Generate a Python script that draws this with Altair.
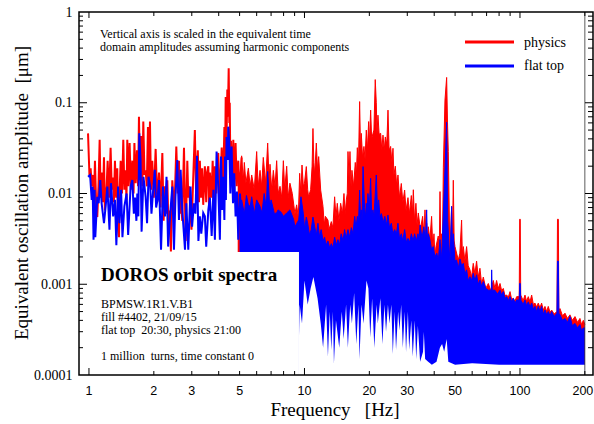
import altair as alt
import pandas as pd

# ---------------- data ----------------
# low-frequency part drawn as individual lines: (frequency Hz, amplitude um)
RED_LINE = [
    (0.99, 0.046), (1.005, 0.016), (1.018, 0.019), (1.03, 0.012), (1.045, 0.016), (1.055, 0.008),
    (1.066, 0.023), (1.08, 0.0075), (1.093, 0.0055), (1.107, 0.012), (1.121, 0.039), (1.133, 0.009),
    (1.145, 0.017), (1.16, 0.008), (1.174, 0.025), (1.185, 0.0065), (1.195, 0.009), (1.208, 0.012),
    (1.221, 0.023), (1.24, 0.009), (1.26, 0.032), (1.276, 0.011), (1.292, 0.015), (1.305, 0.008),
    (1.32, 0.023), (1.337, 0.009), (1.353, 0.019), (1.366, 0.004), (1.378, 0.0033), (1.39, 0.012),
    (1.403, 0.023), (1.423, 0.010), (1.443, 0.039), (1.46, 0.011), (1.48, 0.018), (1.493, 0.0085),
    (1.506, 0.039), (1.525, 0.012), (1.544, 0.036), (1.565, 0.011), (1.589, 0.023), (1.61, 0.010),
    (1.625, 0.036), (1.647, 0.013), (1.67, 0.030), (1.69, 0.012), (1.706, 0.070), (1.727, 0.014),
    (1.749, 0.043), (1.768, 0.012), (1.787, 0.062), (1.81, 0.016), (1.832, 0.018), (1.855, 0.012),
    (1.878, 0.054), (1.9, 0.013), (1.919, 0.062), (1.94, 0.011), (1.967, 0.023), (2.0, 0.009),
    (2.039, 0.031), (2.075, 0.008), (2.113, 0.017), (2.15, 0.007), (2.19, 0.028), (2.22, 0.005),
    (2.253, 0.012), (2.28, 0.006), (2.31, 0.014), (2.34, 0.004), (2.367, 0.0065), (2.4, 0.0023),
    (2.436, 0.014), (2.49, 0.006), (2.543, 0.033), (2.58, 0.010), (2.616, 0.023), (2.64, 0.006),
    (2.663, 0.010), (2.71, 0.005), (2.76, 0.032), (2.81, 0.003), (2.86, 0.023), (2.89, 0.009),
    (2.911, 0.012), (2.99, 0.004), (3.1, 0.050), (3.14, 0.010), (3.2, 0.030), (3.24, 0.008),
    (3.27, 0.023), (3.31, 0.009), (3.35, 0.019), (3.39, 0.0075), (3.45, 0.020), (3.5, 0.008),
    (3.53, 0.017), (3.58, 0.020), (3.61, 0.0065), (3.64, 0.017), (3.7, 0.009), (3.75, 0.023),
    (3.8, 0.007), (3.84, 0.020), (3.9, 0.010), (3.98, 0.028), (4.05, 0.009), (4.13, 0.032),
    (4.19, 0.012), (4.25, 0.054), (4.28, 0.020), (4.31, 0.116), (4.35, 0.040), (4.385, 0.140),
    (4.41, 0.070), (4.45, 0.240), (4.48, 0.060), (4.5, 0.100), (4.53, 0.020), (4.56, 0.038),
    (4.62, 0.012), (4.675, 0.039), (4.72, 0.011), (4.79, 0.036), (4.85, 0.012), (4.93, 0.023),
    (5.0, 0.010), (5.11, 0.025),
]
BLUE_LINE = [
    (0.99, 0.0153), (1.012, 0.016), (1.03, 0.0085), (1.04, 0.0119), (1.05, 0.0031), (1.062, 0.011),
    (1.07, 0.0033), (1.093, 0.0092), (1.11, 0.0078), (1.128, 0.0141), (1.145, 0.0078), (1.174, 0.0047),
    (1.195, 0.0072), (1.217, 0.0119), (1.245, 0.004), (1.265, 0.013), (1.295, 0.0056), (1.32, 0.0085),
    (1.34, 0.0027), (1.365, 0.0119), (1.385, 0.0047), (1.41, 0.011), (1.43, 0.0033), (1.46, 0.0072),
    (1.495, 0.010), (1.52, 0.0035), (1.56, 0.0119), (1.589, 0.0141), (1.615, 0.006), (1.636, 0.009),
    (1.66, 0.005), (1.676, 0.010), (1.695, 0.0056), (1.712, 0.046), (1.735, 0.0234), (1.755, 0.0038),
    (1.79, 0.0153), (1.832, 0.0092), (1.86, 0.0047), (1.89, 0.0153), (1.925, 0.0119), (1.95, 0.006),
    (1.98, 0.010), (2.02, 0.0182), (2.05, 0.007), (2.08, 0.0085), (2.113, 0.0141), (2.16, 0.0024),
    (2.205, 0.0119), (2.253, 0.0056), (2.29, 0.0153), (2.33, 0.0026), (2.39, 0.0066), (2.436, 0.0119),
    (2.48, 0.0024), (2.52, 0.0092), (2.57, 0.0234), (2.616, 0.0051), (2.663, 0.0182), (2.71, 0.0066),
    (2.79, 0.0024), (2.83, 0.0078), (2.89, 0.0024), (2.96, 0.0119), (3.01, 0.0043), (3.07, 0.0078),
    (3.12, 0.006), (3.17, 0.026), (3.22, 0.003), (3.27, 0.0056), (3.32, 0.0036), (3.39, 0.0061),
    (3.45, 0.0056), (3.5, 0.0026), (3.58, 0.0066), (3.64, 0.009), (3.71, 0.0034), (3.78, 0.011),
    (3.84, 0.0031), (3.91, 0.029), (3.98, 0.0119), (4.05, 0.0031), (4.1, 0.0255), (4.15, 0.0066),
    (4.2, 0.0153), (4.25, 0.0051), (4.28, 0.0255), (4.32, 0.0085), (4.35, 0.042), (4.4, 0.0234),
    (4.43, 0.0545), (4.48, 0.036), (4.53, 0.010), (4.59, 0.033), (4.66, 0.0078), (4.72, 0.0167),
    (4.79, 0.0056), (4.86, 0.0105), (4.93, 0.0031), (5.02, 0.010), (5.11, 0.004),
]
# dense part: upper envelope of each spectrum (frequency Hz, amplitude um)
RED_TOP = [
    (4.9, 0.022), (5.0, 0.012), (5.11, 0.026), (5.2, 0.014), (5.26, 0.022), (5.35, 0.013),
    (5.49, 0.019), (5.6, 0.012), (5.69, 0.016), (5.85, 0.011), (6.0, 0.029), (6.1, 0.012),
    (6.22, 0.018), (6.33, 0.012), (6.44, 0.025), (6.6, 0.013), (6.75, 0.036), (6.85, 0.014),
    (6.92, 0.021), (7.05, 0.011), (7.17, 0.018), (7.3, 0.012), (7.43, 0.023), (7.55, 0.010),
    (7.7, 0.012), (7.85, 0.009), (7.98, 0.023), (8.1, 0.011), (8.27, 0.020), (8.4, 0.009),
    (8.56, 0.013), (8.78, 0.010), (9.03, 0.006), (9.2, 0.0075), (9.36, 0.0055), (9.5, 0.0167),
    (9.62, 0.010), (9.74, 0.0206), (9.88, 0.012), (10.0, 0.013), (10.2, 0.0198), (10.35, 0.011),
    (10.45, 0.0092), (10.68, 0.011), (10.85, 0.020), (10.95, 0.052), (11.05, 0.022), (11.15, 0.016),
    (11.35, 0.036), (11.5, 0.018), (11.64, 0.0255), (11.89, 0.0109), (12.19, 0.0072), (12.35, 0.0045),
    (12.5, 0.0056), (12.85, 0.0051), (13.0, 0.004), (13.32, 0.0049), (13.55, 0.0042), (13.8, 0.0092),
    (14.0, 0.0055), (14.2, 0.0078), (14.45, 0.005), (14.72, 0.0078), (15.0, 0.006), (15.25, 0.010),
    (15.45, 0.006), (15.64, 0.0085), (15.8, 0.010), (15.92, 0.029), (16.1, 0.015), (16.26, 0.029),
    (16.45, 0.012), (16.61, 0.018), (16.9, 0.012), (17.21, 0.022), (17.4, 0.015), (17.59, 0.032),
    (17.8, 0.020), (18.03, 0.103), (18.2, 0.030), (18.35, 0.046), (18.6, 0.025), (18.88, 0.033),
    (19.1, 0.024), (19.36, 0.050), (19.6, 0.030), (19.85, 0.062), (20.0, 0.035), (20.28, 0.083),
    (20.5, 0.040), (20.79, 0.046), (21.0, 0.050), (21.3, 0.180), (21.54, 0.100), (21.7, 0.045),
    (21.93, 0.073), (22.2, 0.045), (22.57, 0.046), (22.85, 0.030), (23.14, 0.044), (23.45, 0.030),
    (23.72, 0.042), (24.1, 0.035), (24.41, 0.083), (24.7, 0.030), (25.11, 0.033), (25.45, 0.022),
    (25.75, 0.0315), (26.0, 0.016), (26.4, 0.020), (26.8, 0.012), (27.16, 0.016), (27.6, 0.009),
    (28.14, 0.0129), (28.6, 0.008), (29.16, 0.0109), (29.6, 0.0065), (30.22, 0.009), (30.7, 0.006),
    (31.32, 0.0095), (31.7, 0.006), (32.0, 0.011), (32.4, 0.005), (32.9, 0.0078), (33.3, 0.0045),
    (33.75, 0.0061), (34.5, 0.004), (35.35, 0.0056), (35.8, 0.0035), (36.25, 0.0066), (36.6, 0.0035),
    (36.9, 0.0047), (37.2, 0.003), (37.55, 0.0043), (38.2, 0.0031), (38.9, 0.0056), (39.4, 0.0025),
    (39.9, 0.0036), (40.3, 0.002), (40.76, 0.0026), (41.78, 0.0034), (42.2, 0.0022), (42.55, 0.0105),
    (42.9, 0.0025), (43.3, 0.0036), (43.7, 0.003), (44.1, 0.0195), (44.87, 0.107), (45.68, 0.190),
    (46.1, 0.060), (46.5, 0.029), (47.3, 0.0022), (48.18, 0.0072), (48.6, 0.003), (49.05, 0.014),
    (49.5, 0.003), (49.93, 0.0026), (51.73, 0.00185), (52.6, 0.0022), (53.6, 0.0051), (54.0, 0.0022),
    (54.6, 0.0026), (55.5, 0.0018), (56.55, 0.0026), (57.5, 0.0016), (58.6, 0.00144), (59.6, 0.0012),
    (60.7, 0.0017), (61.8, 0.0013), (62.9, 0.0018), (64.0, 0.0012), (65.2, 0.0015), (66.4, 0.001),
    (67.6, 0.0012), (69.4, 0.0009), (71.3, 0.00102), (73.2, 0.00085), (75.2, 0.0011), (76.5, 0.0009),
    (77.9, 0.0011), (79.3, 0.0009), (80.8, 0.00102), (82.2, 0.00085), (83.7, 0.0009), (85.2, 0.00075),
    (86.8, 0.00076), (88.3, 0.00072), (89.9, 0.00083), (91.5, 0.00068), (93.1, 0.0007), (94.8, 0.00065),
    (96.5, 0.00073), (99.2, 0.00073), (99.7, 0.0052), (100.3, 0.0052), (100.8, 0.00076), (103.5, 0.00066),
    (105.5, 0.00076), (107.3, 0.00065), (109.3, 0.00073), (111.3, 0.00064), (113.3, 0.00076), (115.3, 0.0006),
    (117.4, 0.00062), (119.5, 0.00056), (121.6, 0.00062), (123.8, 0.00055), (126.0, 0.00062), (128.3, 0.00052),
    (130.6, 0.00057), (133.0, 0.0005), (135.3, 0.00057), (137.8, 0.00049), (140.3, 0.00052), (144.0, 0.00047),
    (148.5, 0.0005), (149.3, 0.0052), (150.7, 0.0052), (151.5, 0.0005), (153.3, 0.00054), (157.5, 0.00045),
    (161.8, 0.00048), (166.0, 0.00042), (170.6, 0.00046), (175.0, 0.0004), (180.0, 0.00044), (185.0, 0.00038),
    (189.8, 0.00042), (193.0, 0.00036), (196.8, 0.0004), (200.0, 0.00036),
]
BLUE_TOP = [
    (5.0, 0.006), (5.11, 0.0085), (5.26, 0.006), (5.38, 0.0095), (5.49, 0.0075), (5.6, 0.0072),
    (5.69, 0.0092), (5.85, 0.006), (6.0, 0.0085), (6.22, 0.0072), (6.35, 0.0061), (6.5, 0.010),
    (6.65, 0.007), (6.75, 0.0175), (6.9, 0.007), (7.0, 0.0085), (7.25, 0.006), (7.43, 0.0061),
    (7.54, 0.0066), (7.8, 0.0062), (7.98, 0.0056), (8.27, 0.0061), (8.56, 0.0066), (8.9, 0.0052),
    (9.03, 0.0043), (9.4, 0.0051), (9.63, 0.0092), (9.88, 0.006), (10.02, 0.004), (10.2, 0.0055),
    (10.35, 0.0047), (10.55, 0.0035), (10.75, 0.004), (10.95, 0.0055), (11.15, 0.0043), (11.35, 0.0035),
    (11.55, 0.0047), (11.75, 0.0033), (11.95, 0.004), (12.2, 0.003), (12.4, 0.0033), (12.6, 0.0027),
    (12.85, 0.003), (13.1, 0.0025), (13.32, 0.0028), (13.55, 0.0025), (13.8, 0.0033), (14.05, 0.0027),
    (14.3, 0.0031), (14.55, 0.0027), (14.8, 0.0036), (15.1, 0.003), (15.35, 0.004), (15.6, 0.0032),
    (15.92, 0.004), (16.2, 0.0033), (16.5, 0.0042), (16.8, 0.0036), (17.1, 0.0056), (17.35, 0.0042),
    (17.59, 0.0056), (17.8, 0.0045), (18.03, 0.0109), (18.2, 0.0055), (18.35, 0.0066), (18.5, 0.005),
    (18.7, 0.0198), (19.0, 0.007), (19.2, 0.0055), (19.36, 0.0078), (19.5, 0.006), (19.7, 0.010),
    (20.0, 0.007), (20.28, 0.0147), (20.5, 0.006), (20.79, 0.0066), (21.0, 0.0055), (21.2, 0.008),
    (21.54, 0.016), (21.8, 0.007), (22.1, 0.0085), (22.4, 0.0055), (22.75, 0.006), (23.2, 0.0048),
    (23.6, 0.0056), (24.0, 0.0045), (24.41, 0.0058), (24.8, 0.0042), (25.3, 0.0047), (25.7, 0.0036),
    (26.2, 0.004), (26.7, 0.0036), (27.16, 0.0047), (27.6, 0.0032), (28.14, 0.0036), (28.6, 0.003),
    (29.16, 0.004), (29.7, 0.0029), (30.22, 0.0032), (30.8, 0.0029), (31.32, 0.0036), (31.9, 0.003),
    (32.45, 0.0036), (33.0, 0.003), (33.63, 0.0036), (34.0, 0.003), (34.4, 0.0045), (35.1, 0.0032),
    (35.8, 0.0043), (36.4, 0.003), (36.9, 0.0066), (37.2, 0.003), (37.55, 0.0036), (38.2, 0.0031),
    (38.9, 0.0024), (39.6, 0.0026), (40.3, 0.002), (41.1, 0.0022), (41.8, 0.00185), (42.55, 0.0031),
    (43.3, 0.00185), (44.1, 0.0061), (44.87, 0.0182), (45.68, 0.061), (46.2, 0.005), (47.33, 0.0017),
    (48.18, 0.0072), (48.6, 0.0025), (49.05, 0.0036), (49.9, 0.0018), (50.8, 0.00185), (51.7, 0.0015),
    (52.7, 0.0019), (53.6, 0.0016), (54.6, 0.0017), (55.5, 0.0013), (56.55, 0.00144), (57.5, 0.0011),
    (58.6, 0.00121), (59.6, 0.0011), (60.7, 0.00132), (61.8, 0.0011), (62.9, 0.00127), (64.0, 0.001),
    (65.2, 0.00111), (66.4, 0.00095), (67.6, 0.00107), (69.4, 0.0009), (71.3, 0.00086), (73.6, 0.00086),
    (73.9, 0.00144), (74.3, 0.00086), (76.5, 0.00086), (78.6, 0.00078), (80.8, 0.00086), (82.2, 0.00076),
    (83.7, 0.00083), (85.2, 0.0007), (86.8, 0.00073), (88.3, 0.00066), (89.9, 0.00073), (91.5, 0.00064),
    (93.1, 0.0007), (94.8, 0.00062), (96.5, 0.00067), (99.2, 0.00067), (99.7, 0.00102), (100.3, 0.00102),
    (100.8, 0.00067), (103.5, 0.0006), (105.5, 0.00067), (107.3, 0.00058), (109.3, 0.00064), (111.3, 0.00056),
    (113.3, 0.00062), (115.3, 0.00053), (117.4, 0.00057), (119.5, 0.0005), (121.6, 0.00057), (123.8, 0.0005),
    (126.0, 0.00057), (128.3, 0.00047), (130.6, 0.00052), (133.0, 0.00046), (135.3, 0.0005), (137.8, 0.00045),
    (140.3, 0.0005), (144.0, 0.00044), (148.5, 0.00048), (149.3, 0.0018), (150.7, 0.0018), (151.5, 0.00048),
    (153.3, 0.00046), (157.5, 0.0004), (161.8, 0.00042), (166.0, 0.00038), (170.6, 0.00044), (175.0, 0.00035),
    (180.0, 0.00037), (185.0, 0.00033), (189.8, 0.00036), (193.0, 0.00031), (196.8, 0.00033), (200.0, 0.00033),
]
# lower envelope of the dense blue spectrum (below it the page is white)
BLUE_BOTTOM = [
    (9.43, 0.00026), (9.5, 0.0006), (9.74, 0.00037), (10.0, 0.0011), (10.35, 0.0006), (10.68, 0.0009),
    (11.0, 0.0012), (11.5, 0.0007), (11.9, 0.00037), (12.2, 0.0002), (12.6, 0.0006), (12.85, 0.00016),
    (13.1, 0.0005), (13.32, 0.00019), (13.55, 0.0005), (13.7, 0.000134), (14.0, 0.0004), (14.5, 0.0002),
    (14.9, 0.0005), (15.2, 0.00025), (15.6, 0.0006), (15.9, 0.0002), (16.3, 0.0006), (16.6, 0.00037),
    (17.0, 0.0008), (17.4, 0.00022), (17.8, 0.0006), (18.0, 0.00015), (18.4, 0.0006), (18.8, 0.00037),
    (19.4, 0.0011), (19.8, 0.0009), (20.2, 0.00026), (20.6, 0.0007), (21.1, 0.0002), (21.6, 0.0006),
    (21.9, 0.00037), (22.5, 0.0007), (23.0, 0.00022), (23.5, 0.0006), (23.9, 0.0003), (24.4, 0.0006),
    (24.8, 0.00037), (25.3, 0.0006), (25.7, 0.00017), (26.2, 0.0005), (26.6, 0.00019), (27.2, 0.0005),
    (27.6, 0.00031), (28.1, 0.0006), (28.6, 0.0002), (29.2, 0.0005), (29.6, 0.00018), (30.2, 0.0005),
    (30.6, 0.00019), (31.3, 0.0004), (31.8, 0.00016), (32.5, 0.0004), (33.0, 0.00015), (33.6, 0.00035),
    (34.4, 0.00014), (35.5, 0.00018), (35.8, 0.0003), (36.3, 0.00015), (37.5, 0.00014), (39.0, 0.00013),
    (41.0, 0.00014), (42.5, 0.0002), (43.5, 0.00022), (44.5, 0.00018), (45.7, 0.00025), (46.5, 0.00014),
    (50.0, 0.00013), (60.0, 0.000135), (80.0, 0.00013), (100.0, 0.00013), (150.0, 0.00013), (200.0, 0.00013),
]
FLOOR = 0.0001  # bottom of the amplitude axis, where the filled envelopes end
F_END = 200.0   # last frequency of the spectra (thin vertical line)
# white annotation box (frequency span, amplitude span)
BOX_F = [0.899, 9.43]
BOX_AMP = [0.0001, 0.00227]

X_LABELS = [1, 2, 3, 5, 10, 20, 30, 50, 100]
X_LABEL_LAST = [200]
Y_LABELS = [0.0001, 0.001, 0.01, 0.1, 1]
X_MAJOR_TICKS = [1, 10, 100]
X_MINOR_TICKS = [2, 3, 4, 5, 6, 7, 8, 9, 20, 30, 40, 50, 60, 70, 80, 90, 200]
Y_MAJOR_TICKS = [0.001, 0.01, 0.1]
Y_MINOR_TICKS = [k * d for d in (0.0001, 0.001, 0.01, 0.1) for k in range(2, 10)]

SERIES_NAMES = ["physics", "flat top"]
RED, BLUE = "#ff0000", "#0000ff"
FONT = "Liberation Serif"
SANS = "Liberation Sans"

# ---------------- chart ----------------
W, H = 514, 363
xs = alt.Scale(type="log", domain=[0.899, 218.2], nice=False)
ys = alt.Scale(type="log", domain=[0.0001, 1], nice=False)

y_axis = alt.Axis(values=Y_LABELS, format="~g", ticks=False, tickSize=0, domain=False, grid=False,
                  labelFont=FONT, labelFontSize=14, labelColor="black", labelPadding=7,
                  labelFlush=False, labelOverlap=False, title=None)


def frame(pairs):
    d = pd.DataFrame(sorted(pairs), columns=["f", "v"])
    d["base"] = FLOOR
    return d


def XF(field="f"):
    return alt.X(f"{field}:Q", scale=xs, axis=None)


def YF(field="v"):
    return alt.Y(f"{field}:Q", scale=ys, axis=y_axis)


red_line = alt.Chart(frame(RED_LINE)).mark_line(color=RED, strokeWidth=2, clip=True).encode(
    x=XF(), y=YF())
red_area = alt.Chart(frame(RED_TOP)).mark_area(color=RED, opacity=1, clip=True).encode(
    x=XF(), y=YF(), y2="base:Q")
red_edge = alt.Chart(frame(RED_TOP)).mark_line(color=RED, strokeWidth=1, clip=True).encode(
    x=XF(), y=YF())
blue_line = alt.Chart(frame(BLUE_LINE)).mark_line(color=BLUE, strokeWidth=2, clip=True).encode(
    x=XF(), y=YF())
blue_area = alt.Chart(frame(BLUE_TOP)).mark_area(color=BLUE, opacity=1, clip=True).encode(
    x=XF(), y=YF(), y2="base:Q")
blue_edge = alt.Chart(frame(BLUE_TOP)).mark_line(color=BLUE, strokeWidth=1, clip=True).encode(
    x=XF(), y=YF())
white_cover = alt.Chart(frame(BLUE_BOTTOM)).mark_area(color="white", opacity=1, clip=True).encode(
    x=XF(), y=YF(), y2="base:Q")

box_df = pd.DataFrame({"f0": [BOX_F[0]], "f1": [BOX_F[1]], "a0": [BOX_AMP[0]], "a1": [BOX_AMP[1]]})
box = alt.Chart(box_df).mark_rect(color="white", opacity=1).encode(
    x=XF("f0"), x2="f1:Q", y=YF("a1"), y2="a0:Q")

end_line = alt.Chart(pd.DataFrame({"t": [F_END]})).mark_rule(color="#333333", strokeWidth=0.8).encode(
    x=XF("t"), y=alt.value(0), y2=alt.value(H))

one = pd.DataFrame({"a": [0]})
border = alt.Chart(one).mark_rect(fillOpacity=0, stroke="black", strokeWidth=1.5).encode(
    x=alt.value(0), x2=alt.value(W), y=alt.value(0), y2=alt.value(H))


def xticks(vals, length_bottom, length_top):
    d = pd.DataFrame({"t": vals})
    bottom = alt.Chart(d).mark_rule(color="black", strokeWidth=1).encode(
        x=XF("t"), y=alt.value(H), y2=alt.value(H - length_bottom))
    top = alt.Chart(d).mark_rule(color="black", strokeWidth=1).encode(
        x=XF("t"), y=alt.value(0), y2=alt.value(length_top))
    return [bottom, top]


def yticks(vals, length_left, length_right):
    d = pd.DataFrame({"t": vals})
    left = alt.Chart(d).mark_rule(color="black", strokeWidth=1).encode(
        y=YF("t"), x=alt.value(0), x2=alt.value(length_left))
    right = alt.Chart(d).mark_rule(color="black", strokeWidth=1).encode(
        y=YF("t"), x=alt.value(W), x2=alt.value(W - length_right))
    return [left, right]


ticks = (xticks(X_MAJOR_TICKS, 7, 6) + xticks(X_MINOR_TICKS, 4, 4)
         + yticks(Y_MAJOR_TICKS, 8, 8) + yticks(Y_MINOR_TICKS, 4, 5))


def xlabels(vals, dx):
    d = pd.DataFrame({"t": vals})
    return alt.Chart(d).mark_text(font=SANS, fontSize=12.5, align="center", baseline="alphabetic",
                                  color="black", dx=dx).encode(
        x=XF("t"), y=alt.value(H + 20), text=alt.Text("t:Q", format="~g"))


x_labels = [xlabels(X_LABELS, 0), xlabels(X_LABEL_LAST, -2)]


def text(s, x, y, size, weight="normal", align="left", angle=0):
    return alt.Chart(one).mark_text(
        text=s, font=FONT, fontSize=size, fontWeight=weight, align=align,
        baseline="alphabetic", angle=angle, color="black").encode(x=alt.value(x), y=alt.value(y))


NB = "\u00a0"
texts = [
    text("Vertical axis is scaled in the equivalent time", 21, 26, 12),
    text("domain amplitudes assuming harmonic components", 21, 39, 12),
    text("DOROS orbit spectra", 22, 269, 19, weight="bold"),
    text("BPMSW.1R1.V.B1", 22, 296, 12),
    text("fill #4402, 21/09/15", 22, 309, 12),
    text("flat top" + NB + " 20:30, physics 21:00", 22, 322, 12),
    text("1 million" + NB + " turns, time constant 0", 22, 348, 12),
    text(SERIES_NAMES[0], 445, 35, 14),
    text(SERIES_NAMES[1], 445, 58, 14),
    text("Frequency" + NB + NB + " [Hz]", 256, 404, 19, align="center"),
    text("Equivalent oscillation amplitude" + NB + " [\u03bcm]", -51, 181, 19, align="center", angle=270),
]

legend = [
    alt.Chart(one).mark_rule(color=RED, strokeWidth=3).encode(
        x=alt.value(386), x2=alt.value(435), y=alt.value(30)),
    alt.Chart(one).mark_rule(color=BLUE, strokeWidth=3).encode(
        x=alt.value(386), x2=alt.value(435), y=alt.value(54)),
]

chart = alt.layer(
    red_line, red_area, red_edge, blue_line, blue_area, blue_edge, white_cover, box, end_line,
    *ticks, border, *x_labels, *legend, *texts
).properties(
    width=W, height=H,
    autosize=alt.AutoSizeParams(type="none"),
    padding={"left": 79, "top": 12, "right": 1, "bottom": 49},
).configure_view(stroke=None)

chart.save("out.html", embed_options={"renderer": "svg", "actions": False})
